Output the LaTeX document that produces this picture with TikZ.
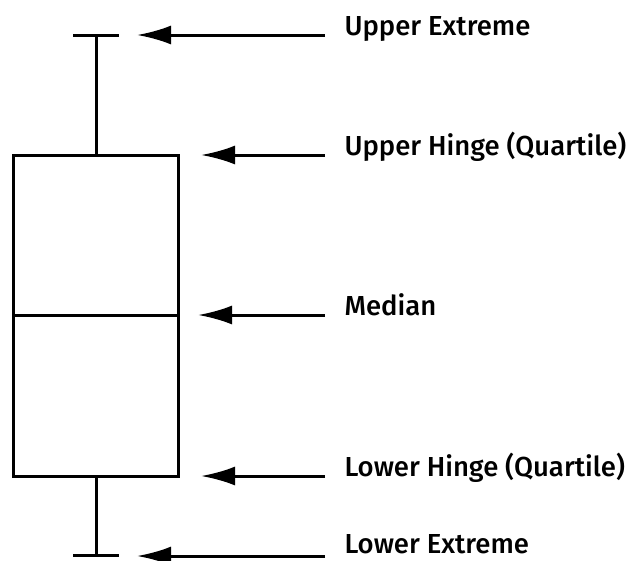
\documentclass[tikz,border=0pt]{standalone}
\usepackage{fontspec}
\setmainfont{Fira Sans}
\newfontfamily\labelfont{Fira Sans Medium}
\usepackage{tikz}
\usetikzlibrary{positioning,arrows.meta}

\begin{document}
\begin{tikzpicture}[x=1pt, y=-1pt, line width=3pt,
boxnode/.style={rectangle, draw=black, line width=3pt, inner sep=0pt, minimum width=165pt, minimum height=321pt, anchor=north west},
labelnode/.style={anchor=base west, inner sep=0pt, font=\labelfont\fontsize{27.5}{32}\selectfont},
pointer/.style={-{Latex[length=34pt,width=19pt]}, line width=3pt},
]
\useasboundingbox (0,0) rectangle (637,560);
%Nodes
\node[boxnode]   (Box)          at (12,154)  {};
\coordinate      (UpperCap)     at (96,35);
\coordinate      (LowerCap)     at (96,555);
\coordinate      (MedianLeft)   at (12,315);
\coordinate      (MedianRight)  at (177,315);
\coordinate      (UpperTip)     at (137,35);
\coordinate      (LowerTip)     at (137,556);
\node[labelnode] (UpperExtreme)  at (343,35)  {Upper Extreme};
\node[labelnode] (UpperHinge)    at (343,155) {Upper Hinge (Quartile)};
\node[labelnode] (Median)        at (343,315) {Median};
\node[labelnode] (LowerHinge)    at (343,476) {Lower Hinge (Quartile)};
\node[labelnode] (LowerExtreme)  at (343,553) {Lower Extreme};

%Lines
\draw (UpperCap) ++(-23,0) -- ++(46,0);
\draw (LowerCap) ++(-23,0) -- ++(46,0);
\draw (UpperCap) -- (Box.north -| UpperCap);
\draw (Box.south -| LowerCap) -- (LowerCap);
\draw (MedianLeft) -- (MedianRight);
\draw[pointer] ([xshift=-18pt]UpperExtreme.base west) -- (UpperTip);
\draw[pointer] ([xshift=-18pt]UpperHinge.base west) -- ([xshift=21pt]Box.north east |- UpperHinge.base);
\draw[pointer] ([xshift=-18pt]Median.base west) -- ([xshift=21pt]MedianRight);
\draw[pointer] ([xshift=-18pt]LowerHinge.base west) -- ([xshift=21pt]Box.south east |- LowerHinge.base);
\draw[pointer] ([xshift=-18pt,yshift=-3pt]LowerExtreme.base west) -- (LowerTip);
\end{tikzpicture}
\end{document}
